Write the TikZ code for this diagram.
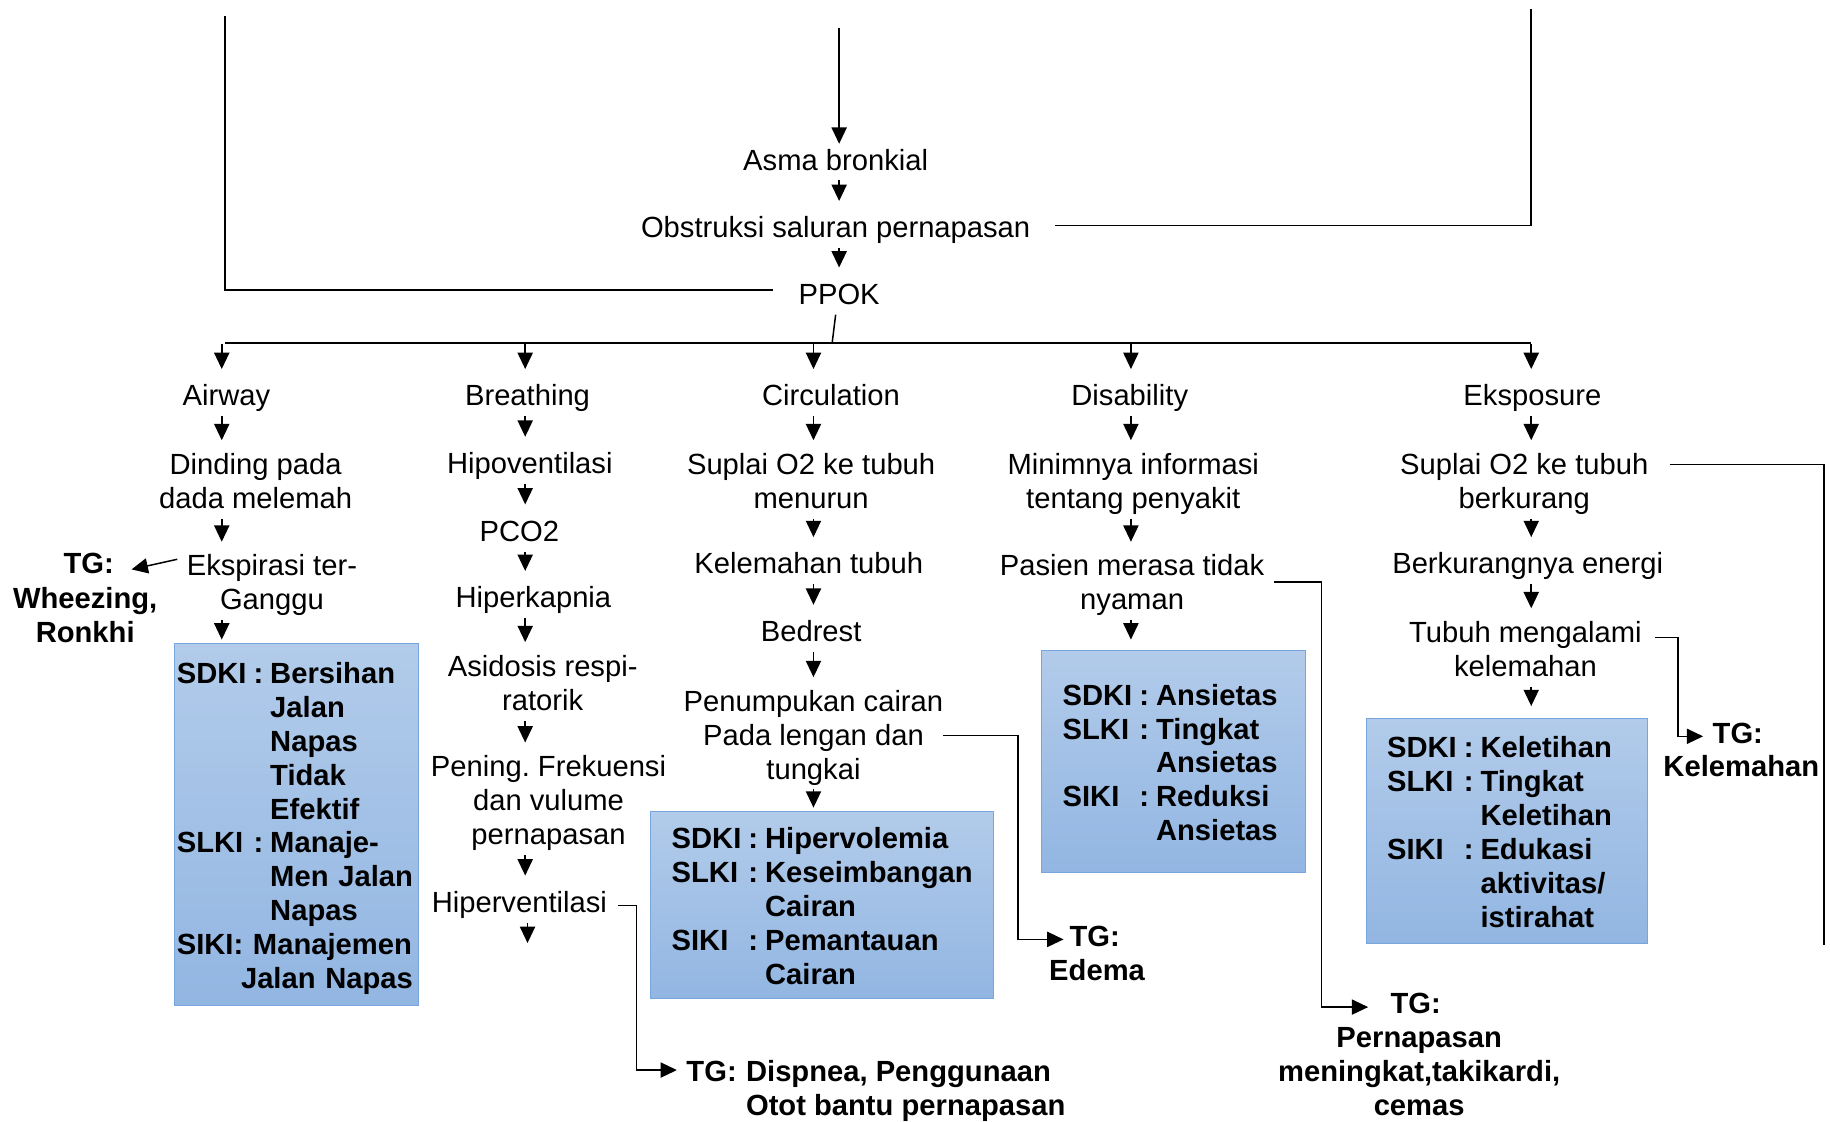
\documentclass[tikz,border=0pt]{standalone}
\usepackage{fontspec}
\setmainfont{Liberation Sans}
\usetikzlibrary{arrows.meta}
\frenchspacing
\newcommand\dfont{\fontsize{25}{29}\selectfont}
\newcommand\tstrut{\rule{0pt}{28.3pt}}
\definecolor{boxtop}{HTML}{B2CBEA}
\definecolor{boxbot}{HTML}{92B6E2}
\definecolor{boxline}{HTML}{78A5DC}
\tikzset{
  ln/.style={line width=1.3pt},
  arr/.style={ln,-{Triangle[width=13pt,length=14pt]},shorten >=11pt},
  txt/.style={font=\dfont,anchor=north,yshift=18.8pt,inner sep=0pt,align=center,
    execute at begin node=\strut,execute at end node=\strut},
  tgtxt/.style={txt,font=\dfont\bfseries},
  dxbox/.style={draw=boxline,line width=1pt,top color=boxtop,bottom color=boxbot,
    anchor=north west,inner xsep=18pt,inner ysep=0pt,align=left,font=\dfont\bfseries},
}
\begin{document}
\begin{tikzpicture}[x=1pt,y=-1pt]
  \useasboundingbox (0,0) rectangle (1568,961);
  % top chain
  \coordinate (topL) at (193,14);
  \coordinate (topM) at (719,24);
  \coordinate (topR) at (1312,8);
  \node[txt] (asma) at (716,144) {Asma bronkial};
  \node[txt] (obstr) at (716,202) {Obstruksi saluran pernapasan};
  \node[txt] (ppok) at (719,259) {PPOK};
  \draw[arr,shorten >=2pt] (topM) -- (asma.north -| topM);
  \draw[arr] (asma.south -| topM) -- (obstr.north -| topM);
  \draw[arr] (obstr.south -| topM) -- (ppok.north -| topM);
  \draw[ln] ([xshift=-22pt,yshift=6.5pt]ppok.west) -| (topL);
  \draw[ln] ([xshift=21pt,yshift=4.5pt]obstr.east) -| (topR);

  % bus to the five columns
  \coordinate (bus) at (713,294);
  \coordinate (busL) at (193,294);
  \coordinate (busR) at (1312,294);
  \coordinate (c1) at (190,0);
  \coordinate (c2) at (450,0);
  \coordinate (c3) at (697,0);
  \coordinate (c4) at (969,0);
  \coordinate (c5) at (1312,0);
  \draw[ln] ([xshift=-3pt]ppok.south) -- (bus);
  \draw[ln] (busL) -- (busR);
  \node[txt] (airway) at (194,346) {Airway};
  \node[txt] (breath) at (452,346) {Breathing};
  \node[txt] (circ) at (712,346) {Circulation};
  \node[txt] (disab) at (968,346) {Disability};
  \node[txt] (ekspo) at (1313,346) {Eksposure};
  \foreach \h/\c in {airway/c1,breath/c2,circ/c3,disab/c4,ekspo/c5}
    \draw[arr,shorten <=1pt] (\c |- bus) -- (\h.north -| \c);

  % airway
  \node[txt] (dind) at (219,407) {Dinding pada\\dada melemah};
  \node[txt] (eksp) at (233,494) {Ekspirasi ter-\\Ganggu};
  \node[tgtxt] (tgW) at (76,490) {TG:};
  \node[tgtxt] (tgWtxt) at (73,522) {Wheezing,\\Ronkhi};
  \node[dxbox,text width=205pt,inner xsep=2pt,minimum height=310pt] (sdki1) at (149,551)
    {\begin{tabular}{@{}l@{\hspace{6pt}}l@{\hspace{6pt}}l@{}}
      \tstrut SDKI & : & Bersihan\\ & & Jalan\\ & & Napas\\ & & Tidak\\ & & Efektif\\
      SLKI & : & Manaje-\\ & & Men Jalan\\ & & Napas\\
      \multicolumn{3}{@{}l@{}}{SIKI: Manajemen}\\
      \multicolumn{3}{@{}r@{}}{Jalan Napas}
    \end{tabular}};
  \foreach \a/\b in {airway/dind,dind/eksp}
    \draw[arr] (\a.south -| c1) -- (\b.north -| c1);
  \draw[arr,shorten >=3pt] (eksp.south -| c1) -- (sdki1.north -| c1);
  \draw[arr,shorten >=0pt] ([xshift=-8pt,yshift=-4pt]eksp.north west) -- ([xshift=15pt,yshift=-2pt]tgW.east);

  % breathing
  \node[txt] (hipov) at (454,404) {Hipoventilasi};
  \node[txt] (pco) at (445,462) {PCO2};
  \node[txt] (hiperk) at (457,519) {Hiperkapnia};
  \node[txt] (asid) at (465,580) {Asidosis respi-\\ratorik};
  \node[txt] (pening) at (470,666) {Pening. Frekuensi\\dan vulume\\pernapasan};
  \node[txt] (hiperv) at (445,780) {Hiperventilasi};
  \coordinate (c2end) at (452,808);
  \node[tgtxt,anchor=north west] (tgD) at (588,925)
    {\begin{tabular}[t]{@{}l@{\hspace{8pt}}l@{}}TG: & Dispnea, Penggunaan\\ & Otot bantu pernapasan\end{tabular}};
  \foreach \a/\b in {breath/hipov,hipov/pco,pco/hiperk,hiperk/asid,asid/pening,pening/hiperv}
    \draw[arr] (\a.south -| c2) -- (\b.north -| c2);
  \draw[arr,shorten >=0pt] (hiperv.south -| c2end) -- (c2end);
  \draw[arr,shorten >=8pt] ([xshift=9pt]hiperv.east) -- ++(16,0) |- ([yshift=-10.65pt]tgD.north west);

  % circulation
  \node[txt] (sup3) at (695,407) {Suplai O2 ke tubuh\\menurun};
  \node[txt] (kelem) at (693,490) {Kelemahan tubuh};
  \node[txt] (bedr) at (695,548) {Bedrest};
  \node[txt] (penum) at (697,610) {Penumpukan cairan\\Pada lengan dan\\tungkai};
  \node[dxbox,text width=258pt,minimum height=160pt] (sdki3) at (557,695)
    {\begin{tabular}{@{}l@{\hspace{6pt}}l@{\hspace{6pt}}l@{}}
      \tstrut SDKI & : & Hipervolemia\\ SLKI & : & Keseimbangan\\ & & Cairan\\
      SIKI & : & Pemantauan\\ & & Cairan
    \end{tabular}};
  \node[tgtxt] (tgE) at (938,809) {TG:};
  \node[tgtxt] (tgEtxt) at (940,838) {Edema};
  \foreach \a/\b in {circ/sup3,sup3/kelem,kelem/bedr,bedr/penum}
    \draw[arr] (\a.south -| c3) -- (\b.north -| c3);
  \draw[arr,shorten >=3pt] (penum.south -| c3) -- (sdki3.north -| c3);
  \draw[arr,shorten >=5pt] ([yshift=3.5pt]penum.east) -- ++(64,0) |- (tgE.west);

  % disability
  \node[txt] (minim) at (971,407) {Minimnya informasi\\tentang penyakit};
  \node[txt] (pasien) at (970,494) {Pasien merasa tidak\\nyaman};
  \node[dxbox,text width=190pt,minimum height=190pt] (sdki4) at (892,557)
    {\begin{tabular}{@{}l@{\hspace{6pt}}l@{\hspace{6pt}}l@{}}
      \tstrut SDKI & : & Ansietas\\ SLKI & : & Tingkat\\ & & Ansietas\\
      SIKI & : & Reduksi\\ & & Ansietas
    \end{tabular}};
  \node[tgtxt] (tgP) at (1213,867) {TG:};
  \node[tgtxt] (tgPtxt) at (1216,899) {Pernapasan\\meningkat,takikardi,\\cemas};
  \foreach \a/\b in {disab/minim,minim/pasien}
    \draw[arr] (\a.south -| c4) -- (\b.north -| c4);
  \draw[arr,shorten >=9pt] (pasien.south -| c4) -- (sdki4.north -| c4);
  \draw[arr,shorten >=19pt] ([xshift=8pt,yshift=4.5pt]pasien.east) -- ++(41,0) |- (tgP.west);

  % eksposure
  \node[txt] (sup5) at (1306,407) {Suplai O2 ke tubuh\\berkurang};
  \node[txt] (berk) at (1309,490) {Berkurangnya energi};
  \node[txt] (tubuh) at (1307,551) {Tubuh mengalami\\kelemahan};
  \node[dxbox,text width=205pt,minimum height=193pt] (sdki5) at (1170,615)
    {\begin{tabular}{@{}l@{\hspace{6pt}}l@{\hspace{6pt}}l@{}}
      \tstrut SDKI & : & Keletihan\\ SLKI & : & Tingkat\\ & & Keletihan\\
      SIKI & : & Edukasi\\ & & aktivitas/\\ & & istirahat
    \end{tabular}};
  \node[tgtxt] (tgK) at (1489,635) {TG:};
  \node[tgtxt] (tgKtxt) at (1492,664) {Kelemahan};
  \coordinate (rEnd) at (1563,810);
  \foreach \a/\b in {ekspo/sup5,sup5/berk,berk/tubuh}
    \draw[arr] (\a.south -| c5) -- (\b.north -| c5);
  \draw[arr,shorten >=10pt] (tubuh.south -| c5) -- (sdki5.north -| c5);
  \draw[arr,shorten >=8pt] ([xshift=11pt,yshift=14pt]tubuh.east) -- ++(20,0) |- (tgK.west);
  \draw[ln] ([xshift=18pt,yshift=18.5pt]sup5.east) -| (rEnd); % runs off to the right edge
\end{tikzpicture}
\end{document}
